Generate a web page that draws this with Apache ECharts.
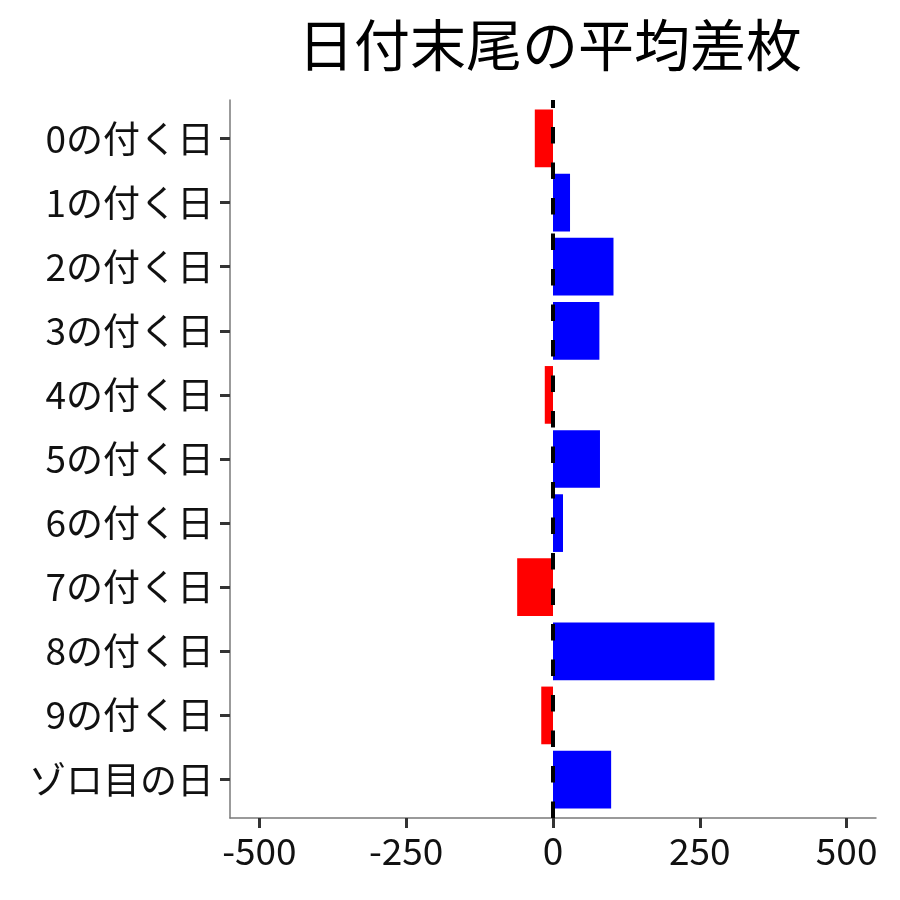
<!DOCTYPE html>
<html><head><meta charset="utf-8">
<script src="https://cdn.jsdelivr.net/npm/echarts@6/dist/echarts.min.js"></script>
<style>html,body{margin:0;padding:0;background:#fff}#c{width:900px;height:900px}</style>
</head><body><div id="c"></div>
<script>
const title = "日付末尾の平均差枚";
const categories = ["0の付く日","1の付く日","2の付く日","3の付く日","4の付く日","5の付く日","6の付く日","7の付く日","8の付く日","9の付く日","ゾロ目の日"];
const values = [-31, 29, 103, 79, -14, 80, 17, -61, 275, -20, 99];
const xTicks = [-500, -250, 0, 250, 500];
const xMin = -550, xMax = 550;

const font = '"Noto Sans CJK JP","Noto Sans",sans-serif';
const chart = echarts.init(document.getElementById('c'), null, {renderer:'canvas'});
const frameTop = 100, frameBottom = 82, band = 718 / 11.2, inset = band * 0.1, tickLen = 10;
chart.setOption({
  animation:false,
  backgroundColor:'#fff',
  title:{text:title,left:545,top:12,textAlign:'center',
    textStyle:{fontFamily:font,fontSize:56,fontWeight:'normal',color:'#000'}},
  grid:[
    {left:230,right:24,top:frameTop,bottom:frameBottom,containLabel:false},
    {left:230,right:24,top:frameTop+inset,bottom:frameBottom+inset,containLabel:false},
    {left:230,right:24,top:frameTop,bottom:frameBottom-tickLen,containLabel:false}
  ],
  xAxis:[
    {gridIndex:0,type:'value',min:xMin,max:xMax,
      axisLine:{show:true,onZero:false,lineStyle:{color:'#7a7a7a',width:1.5}},
      axisTick:{show:false},
      axisLabel:{show:true,customValues:xTicks,fontFamily:font,fontSize:37,color:'#111',margin:14},
      splitLine:{show:false}},
    {gridIndex:1,type:'value',min:xMin,max:xMax,show:false,splitLine:{show:false}},
    {gridIndex:2,type:'value',min:xMin,max:xMax,
      axisLine:{show:false,onZero:false},
      axisTick:{show:true,inside:true,length:tickLen,customValues:xTicks,lineStyle:{color:'#333',width:3}},
      axisLabel:{show:false},splitLine:{show:false}}
  ],
  yAxis:[
    {gridIndex:0,type:'value',min:0,max:1,
      axisLine:{show:true,onZero:false,lineStyle:{color:'#7a7a7a',width:1.5}},
      axisTick:{show:false},axisLabel:{show:false},splitLine:{show:false}},
    {gridIndex:1,type:'category',data:categories,inverse:true,
      axisLine:{show:false,onZero:false},
      axisTick:{show:true,length:10,alignWithLabel:true,lineStyle:{color:'#333',width:3}},
      axisLabel:{fontFamily:font,fontSize:37,color:'#111',margin:16}},
    {gridIndex:2,type:'value',min:0,max:1,show:false,splitLine:{show:false}}
  ],
  series:[
    {type:'bar',xAxisIndex:1,yAxisIndex:1,barCategoryGap:'10%',z:2,
      data:values.map(v=>({value:v,itemStyle:{color:v<0?'#ff0000':'#0000ff'}}))},
    {type:'line',xAxisIndex:0,yAxisIndex:0,data:[],z:10,
      markLine:{silent:true,symbol:'none',label:{show:false},z:10,
        lineStyle:{color:'#000',width:4,type:[16.5,19]},
        data:[{xAxis:0}]}}
  ]
});
</script></body></html>
